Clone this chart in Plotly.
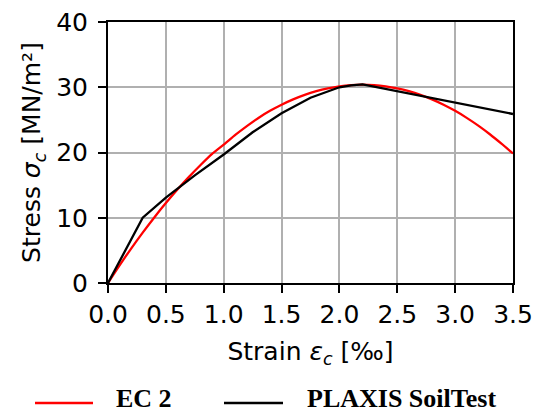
import plotly.graph_objects as go

# EC 2 curve
ec2_strain = [0.0, 0.1, 0.2, 0.3, 0.4, 0.5, 0.6, 0.7, 0.8, 0.9, 1.0, 1.1, 1.2, 1.3, 1.4,
              1.5, 1.6, 1.7, 1.8, 1.9, 2.0, 2.1, 2.2, 2.3, 2.4, 2.5, 2.6, 2.7, 2.8, 2.9,
              3.0, 3.1, 3.2, 3.3, 3.4, 3.5]
ec2_stress = [0.0, 2.70, 5.28, 7.72, 10.05, 12.25, 14.32, 16.27, 18.09, 19.79, 21.2, 22.7,
              24.05, 25.3, 26.38, 27.32, 28.14, 28.83, 29.39, 29.83, 30.15, 30.34, 30.40,
              30.34, 30.15, 29.83, 29.39, 28.83, 28.14, 27.32, 26.38, 25.31, 24.12, 22.80,
              21.36, 19.85]

# PLAXIS SoilTest curve
plx_strain = [0.0, 0.3, 0.5, 0.75, 1.0, 1.25, 1.5, 1.75, 2.0, 2.1, 2.2, 2.5, 2.75, 3.0, 3.25, 3.5]
plx_stress = [0.0, 10.0, 13.1, 16.5, 19.7, 23.1, 26.0, 28.4, 30.0, 30.3, 30.45, 29.4, 28.5,
              27.6, 26.8, 25.9]

x_ticks = [0.0, 0.5, 1.0, 1.5, 2.0, 2.5, 3.0, 3.5]
y_ticks = [0, 10, 20, 30, 40]

legend_names = ["EC 2", "PLAXIS SoilTest"]
legend_colors = ["#ff0000", "#000000"]

W, H = 542, 415
L, R, T, B = 108, 29, 22, 132
pw, ph = W - L - R, H - T - B

fig = go.Figure()
fig.add_trace(go.Scatter(x=ec2_strain, y=ec2_stress, mode="lines", name=legend_names[0],
                         line=dict(color=legend_colors[0], width=2.3, shape="spline", smoothing=0.6),
                         showlegend=False))
fig.add_trace(go.Scatter(x=plx_strain, y=plx_stress, mode="lines", name=legend_names[1],
                         line=dict(color=legend_colors[1], width=2.3), showlegend=False))

tickfont = dict(family="DejaVu Sans", size=25, color="black")
fig.update_xaxes(range=[0, 3.5], tickvals=x_ticks, ticktext=[f"{v:.1f}" for v in x_ticks],
                 showgrid=True, gridcolor="#b0b0b0", gridwidth=2,
                 showline=True, linecolor="black", linewidth=2, mirror=True,
                 ticks="outside", ticklen=8, tickwidth=2, tickcolor="black",
                 tickfont=tickfont, zeroline=False,
                 title=dict(text="Strain <i>ε</i><sub><i>c</i></sub> [‰]",
                            font=dict(family="DejaVu Sans", size=25, color="black"), standoff=14))
fig.update_yaxes(range=[0, 40], tickvals=y_ticks,
                 showgrid=True, gridcolor="#b0b0b0", gridwidth=2,
                 showline=True, linecolor="black", linewidth=2, mirror=True,
                 ticks="outside", ticklen=8, tickwidth=2, tickcolor="black",
                 tickfont=tickfont, zeroline=False, ticklabelstandoff=5,
                 title=dict(text="Stress <i>σ</i><sub><i>c</i></sub> [MN/m²]",
                            font=dict(family="DejaVu Sans", size=25, color="black"), standoff=8))

# manual legend below the plot
def px_x(x):
    return (x - L) / pw

def px_y(y):
    return (H - B - y) / ph

legend_y = 403
items = [(35, 93, 114), (224, 283, 305)]
for (x0, x1, tx), name, col in zip(items, legend_names, legend_colors):
    fig.add_shape(type="line", xref="paper", yref="paper", x0=px_x(x0), x1=px_x(x1),
                  y0=px_y(legend_y), y1=px_y(legend_y), line=dict(color=col, width=2.5))
    fig.add_annotation(xref="paper", yref="paper", x=px_x(tx), y=px_y(H),
                       xanchor="left", yanchor="bottom", showarrow=False,
                       text=f"<b>{name}</b>",
                       font=dict(family="Liberation Serif, Times New Roman, serif", size=26,
                                 color="black"))

fig.update_layout(width=W, height=H, margin=dict(l=L, r=R, t=T, b=B, autoexpand=False),
                  plot_bgcolor="white", paper_bgcolor="white", showlegend=False)

fig.write_html("out.html")
